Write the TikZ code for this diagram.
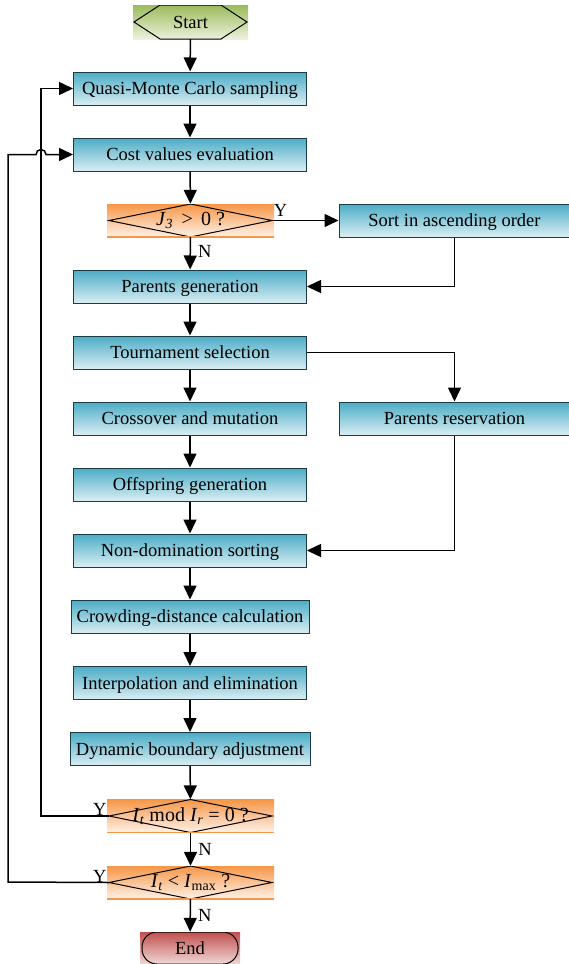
\documentclass[tikz,border=0pt]{standalone}
\usepackage{fontspec}
\setmainfont{Liberation Serif}
\usetikzlibrary{arrows.meta,positioning}
\definecolor{boxtop}{RGB}{75,172,198}
\definecolor{boxbot}{RGB}{218,238,243}
\definecolor{dectop}{RGB}{247,150,70}
\definecolor{decbot}{RGB}{254,242,234}
\definecolor{starttop}{RGB}{155,187,89}
\definecolor{startbot}{RGB}{235,241,222}
\definecolor{endtop}{RGB}{192,80,77}
\definecolor{endbot}{RGB}{242,220,219}
\definecolor{boxline}{RGB}{25,60,70}
\begin{document}
\begin{tikzpicture}[x=1pt,y=-1pt,
  font=\fontsize{18.5}{22}\selectfont,
  procbox/.style={rectangle,draw=boxline,line width=1pt,top color=boxtop,bottom color=boxbot,
    minimum width=233,minimum height=33,inner sep=0pt,text height=15pt,text depth=3pt},
  decision/.style={rectangle,top color=dectop,bottom color=decbot,
    minimum width=167,minimum height=33,inner sep=0pt,font=\fontsize{20}{22}\selectfont,
    path picture={
      \draw[line width=1pt] ([xshift=2pt]path picture bounding box.west)
        -- (path picture bounding box.north) -- ([xshift=-2pt]path picture bounding box.east)
        -- (path picture bounding box.south) -- cycle;
      \draw[dectop,line width=1.5pt] (path picture bounding box.south west) -- (path picture bounding box.south east);}},
  flow/.style={line width=1.5pt,-{Triangle[length=14pt,width=13pt]}},
  yn/.style={inner sep=1pt}]
\useasboundingbox (0,0) rectangle (568,964);
%%% start and end
\node[rectangle,top color=starttop,bottom color=startbot,minimum width=115,minimum height=34,inner sep=0pt,
  text height=15pt,text depth=3pt,
  path picture={\draw[line width=1pt] ([xshift=1pt]path picture bounding box.west)
    -- ([xshift=27pt]path picture bounding box.north west) -- ([xshift=-27pt]path picture bounding box.north east)
    -- ([xshift=-1pt]path picture bounding box.east) -- ([xshift=-27pt]path picture bounding box.south east)
    -- ([xshift=27pt]path picture bounding box.south west) -- cycle;}]
  (start) at (190.5,22) {Start};
\node[rectangle,top color=endtop,bottom color=endbot,minimum width=100,minimum height=33,inner sep=0pt,
  text height=15pt,text depth=3pt,
  path picture={\draw[line width=1pt,rounded corners=15pt] ([xshift=2pt]path picture bounding box.north west)
    rectangle ([xshift=-2pt,yshift=1pt]path picture bounding box.south east);}]
  (stop) at (190,948.5) {End};
%%% main column
\node[procbox] (qmc) at (190,88.5) {Quasi-Monte Carlo sampling};
\node[procbox] (cost) at (190,154.5) {Cost values evaluation};
\node[decision] (jtest) at (190.5,220.5) {\textit{J}\textsubscript{\textit{3}}\, >\, 0 ?};
\node[procbox] (parents) at (190,286.5) {Parents generation};
\node[procbox] (tour) at (190,352.5) {Tournament selection};
\node[procbox] (cross) at (190,418.5) {Crossover and mutation};
\node[procbox] (offs) at (190,484.5) {Offspring generation};
\node[procbox] (nondom) at (190,550.5) {Non-domination sorting};
\node[procbox,minimum width=238] (crowd) at (190,616.5) {Crowding-distance calculation};
\node[procbox] (interp) at (190,683) {Interpolation and elimination};
\node[procbox,minimum width=240] (dyn) at (190,749) {Dynamic boundary adjustment};
\node[decision] (imod) at (190.5,816) {\textit{I}\textsubscript{\textit{t}} mod \textit{I}\textsubscript{\textit{r}} = 0 ?};
\node[decision] (imax) at (190.5,882.5) {\textit{I}\textsubscript{\textit{t}} < \textit{I}\textsubscript{max} ?};
%%% side column
\node[procbox,minimum width=231] (sort) at (454.5,220.5) {Sort in ascending order};
\node[procbox,minimum width=231] (reserve) at (454.5,418.5) {Parents reservation};
%%% loop corners
\coordinate (lp1) at (41,816);
\coordinate (lp2) at (8,882);
%Straight flow
\draw[flow] (start) -- (qmc);
\draw[flow] (qmc) -- (cost);
\draw[flow] (cost) -- (jtest);
\draw[flow] (jtest) -- node[right,yn,pos=0.45,xshift=6pt] (n1) {N} (parents);
\draw[flow] (parents) -- (tour);
\draw[flow] (tour) -- (cross);
\draw[flow] (cross) -- (offs);
\draw[flow] (offs) -- (nondom);
\draw[flow] (nondom) -- (crowd);
\draw[flow] (crowd) -- (interp);
\draw[flow] (interp) -- (dyn);
\draw[flow] (dyn) -- (imod);
\draw[flow] (imod) -- node[right,yn,xshift=6pt] (n2) {N} (imax);
\draw[flow] (imax) -- node[right,yn,xshift=6pt] (n3) {N} (stop);
%Side branches
\draw[flow] (jtest.east) -- node[pos=0.1,above,yn,yshift=2pt] (y1) {Y} (sort.west);
\draw[flow] (sort.south) |- (parents.east);
\draw[flow] (tour.east) -| (reserve.north);
\draw[flow] (reserve.south) |- (nondom.east);
%Loops back
\draw[flow] ([xshift=2pt]imod.west) -- (lp1) |- (qmc.west);
\node[yn,above left] (y2) at ([xshift=1pt,yshift=-1pt]imod.west) {Y};
\draw[flow] ([xshift=2pt]imax.west) -- (lp2) |- ([xshift=-5pt]lp1 |- cost.west)
  arc[start angle=180,end angle=0,radius=5pt] -- (cost.west);
\node[yn,above left] (y3) at ([xshift=1pt,yshift=-1pt]imax.west) {Y};
\end{tikzpicture}
\end{document}
